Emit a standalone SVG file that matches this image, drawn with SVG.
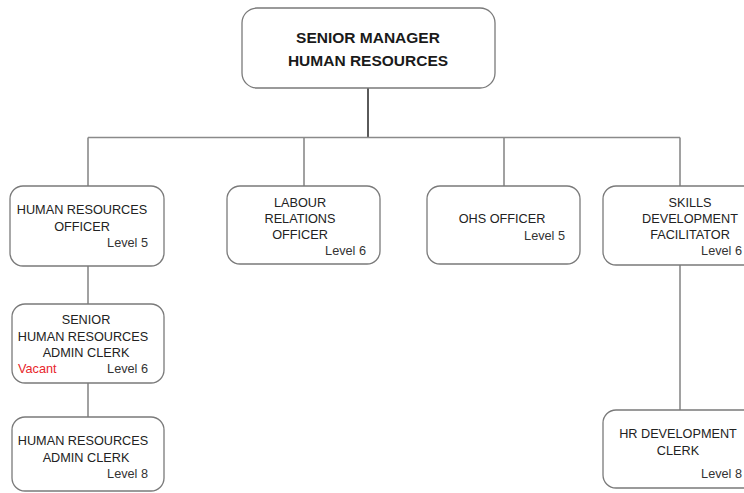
<svg xmlns="http://www.w3.org/2000/svg" width="744" height="493" viewBox="0 0 744 493">
  <style>
    .box { fill: #ffffff; stroke: #7a7a7a; stroke-width: 1.3; }
    .wire { fill: none; stroke: #8a8a8a; stroke-width: 1.6; }
    .wire-main { fill: none; stroke: #5a5a5a; stroke-width: 2; }
    .title { font-family: "Liberation Sans", Arial, sans-serif; font-weight: bold; font-size: 15.5px; fill: #1a1a1a; text-anchor: middle; }
    .t { font-family: "Liberation Sans", Arial, sans-serif; font-size: 12.7px; fill: #222222; text-anchor: middle; }
    .lvl { font-family: "Liberation Sans", Arial, sans-serif; font-size: 12.7px; fill: #333333; text-anchor: end; }
    .vac { font-family: "Liberation Sans", Arial, sans-serif; font-size: 12.7px; fill: #e8262b; text-anchor: start; }
  </style>

  <!-- connectors -->
  <g id="connectors">
    <path class="wire-main" d="M368 88 V137"/>
    <path class="wire" d="M88 137.5 H680"/>
    <path class="wire" d="M88 137.5 V186"/>
    <path class="wire" d="M304 137.5 V186"/>
    <path class="wire" d="M504 137.5 V186"/>
    <path class="wire" d="M680 137.5 V186"/>
    <path class="wire" d="M88 266 V304"/>
    <path class="wire" d="M88 383 V417"/>
    <path class="wire" d="M680 265 V410"/>
  </g>

  <!-- top -->
  <g id="senior-manager">
    <rect class="box" x="242" y="8" width="253" height="80" rx="15"/>
    <text class="title" x="368" y="43">SENIOR MANAGER</text>
    <text class="title" x="368" y="66">HUMAN RESOURCES</text>
  </g>

  <g id="hr-officer">
    <rect class="box" x="10" y="186" width="154" height="80" rx="13"/>
    <text class="t" x="82" y="214">HUMAN RESOURCES</text>
    <text class="t" x="82" y="231">OFFICER</text>
    <text class="lvl" x="148" y="247">Level 5</text>
  </g>

  <g id="labour-relations">
    <rect class="box" x="227" y="186" width="153" height="78" rx="13"/>
    <text class="t" x="300" y="207">LABOUR</text>
    <text class="t" x="300" y="223">RELATIONS</text>
    <text class="t" x="300" y="239">OFFICER</text>
    <text class="lvl" x="366" y="255">Level 6</text>
  </g>

  <g id="ohs-officer">
    <rect class="box" x="427" y="186" width="153" height="78" rx="13"/>
    <text class="t" x="502" y="223">OHS OFFICER</text>
    <text class="lvl" x="565" y="240">Level 5</text>
  </g>

  <g id="skills-facilitator">
    <rect class="box" x="603" y="186" width="160" height="79" rx="13"/>
    <text class="t" x="690" y="207">SKILLS</text>
    <text class="t" x="690" y="223">DEVELOPMENT</text>
    <text class="t" x="690" y="239">FACILITATOR</text>
    <text class="lvl" x="742" y="255">Level 6</text>
  </g>

  <g id="senior-admin-clerk">
    <rect class="box" x="12" y="304" width="152" height="79" rx="13"/>
    <text class="t" x="86" y="324">SENIOR</text>
    <text class="t" x="83" y="341">HUMAN RESOURCES</text>
    <text class="t" x="86" y="357">ADMIN CLERK</text>
    <text class="vac" x="18" y="373">Vacant</text>
    <text class="lvl" x="148" y="373">Level 6</text>
  </g>

  <g id="admin-clerk">
    <rect class="box" x="12" y="417" width="152" height="74" rx="13"/>
    <text class="t" x="83" y="445">HUMAN RESOURCES</text>
    <text class="t" x="86" y="462">ADMIN CLERK</text>
    <text class="lvl" x="148" y="478">Level 8</text>
  </g>

  <g id="hr-development-clerk">
    <rect class="box" x="603" y="410" width="160" height="78" rx="13"/>
    <text class="t" x="678" y="438">HR DEVELOPMENT</text>
    <text class="t" x="678" y="455">CLERK</text>
    <text class="lvl" x="742" y="478">Level 8</text>
  </g>
</svg>
